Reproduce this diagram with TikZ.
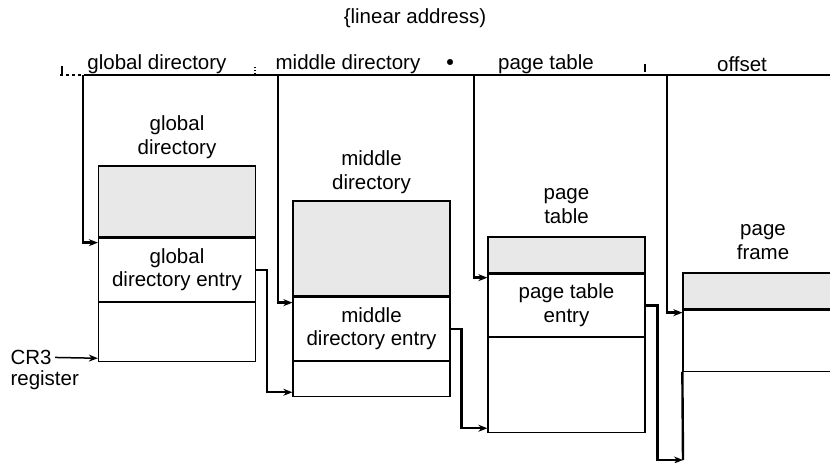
\documentclass[tikz,border=0pt]{standalone}
\usepackage{fontspec}
\setmainfont{Liberation Sans}
\usetikzlibrary{positioning, calc, arrows.meta}

\begin{document}
\begin{tikzpicture}[x=1pt, y=-1pt,
    font=\fontsize{20.5}{23.5}\selectfont,
    row/.style={draw, line width=1.3pt, minimum width=157pt, inner sep=0pt, align=center},
    shaded/.style={row, fill=black!9},
    link/.style={line width=2.4pt, -{Stealth[length=9pt,width=7pt]}},
    ]
    \useasboundingbox (0,0) rectangle (830,463);
    \node (title) at (415,18) {\{linear address)};
    \node (fgd) at (157,64) {global directory};
    \node (fmd) at (348,64) {middle directory};
    \node (fpt) at (546,64) {page table};
    \node (fof) at (742,64) {offset};
    \draw[dashed, line width=1.2pt] (60,75) -- (86,75);
    \draw[line width=1.2pt] (86,75) -- (830,75);
    \draw[line width=1.2pt] (62,66) -- (62,75);
    \draw[line width=1.2pt, dotted] (255,67) -- (255,75);
    \filldraw (450,62) circle (2.8pt);
    \draw[line width=1.2pt] (645,64) -- (645,72);
    \coordinate (gdfield) at (83,75);
    \coordinate (mdfield) at (278,75);
    \coordinate (ptfield) at (474,75);
    \coordinate (offield) at (667,75);

    \node[align=center] (gdlabel) at (177,137) {global\\directory};
    \node[shaded, minimum height=71pt] (gdtop) at (177,201.5) {};
    \node[row, minimum height=63pt, below=0pt of gdtop] (gdent) {global\\directory entry};
    \node[row, minimum height=59pt, below=0pt of gdent] (gdlow) {};

    \node[align=center] (mdlabel) at (371.5,172) {middle\\directory};
    \node[shaded, minimum height=95pt] (mdtop) at (371.5,248.5) {};
    \node[row, minimum height=63pt, below=0pt of mdtop] (mdent) {middle\\directory entry};
    \node[row, minimum height=35pt, below=0pt of mdent] (mdlow) {};

    \node[align=center] (ptlabel) at (566.5,206) {page\\table};
    \node[shaded, minimum height=36pt] (pttop) at (566.5,255) {};
    \node[row, minimum height=62pt, below=0pt of pttop] (ptent) {page table\\entry};
    \node[row, minimum height=95pt, below=0pt of ptent] (ptlow) {};

    \node[align=center] (pflabel) at (763,242) {page\\frame};
    \node[shaded, minimum width=180pt, minimum height=36pt] (pftop) at (773,291) {};
    \node[row, minimum width=180pt, minimum height=61pt, below=0pt of pftop] (pflow) {};
    \coordinate (pfend) at (683,460);
    \draw[line width=2.4pt] (pflow.south west) -- (pfend);

    \node[anchor=west] (cr3) at (7,357) {CR3};
    \node[anchor=west] (reg) at (7,380) {register};

    \draw[link] (gdfield) |- ([yshift=-5pt]gdent.north west);
    \draw[link] (mdfield) |- ([yshift=-6pt]mdent.north west);
    \draw[link] (ptfield) |- ([yshift=-4pt]ptent.north west);
    \draw[link] (offield) |- ([yshift=-3pt]pflow.north west);
    \draw[link] (gdent.east) -- ++(11,0) |- ([yshift=5pt]mdlow.south west);
    \draw[link] (mdent.east) -- ++(11,0) |- ([yshift=5pt]ptlow.south west);
    \draw[link] (ptent.east) -- ++(12,0) |- (pfend);
    \draw[link, line width=1.5pt] (cr3) -- ([yshift=4pt]gdlow.south west);
\end{tikzpicture}
\end{document}
